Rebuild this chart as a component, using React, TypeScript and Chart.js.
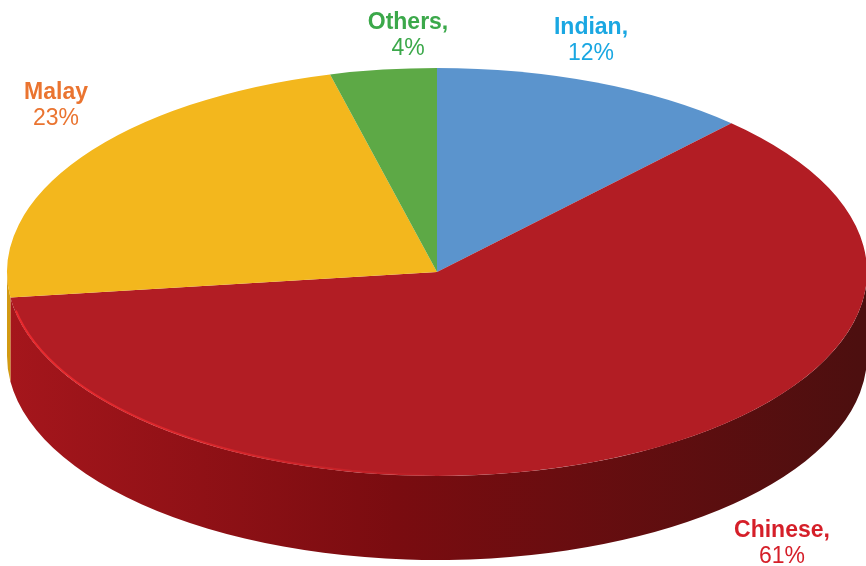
import React, { useEffect, useRef } from "react";
import { Chart, registerables } from "chart.js";

Chart.register(...registerables);

// ---- data ----
const categories = ["Indian", "Chinese", "Malay", "Others"];
const values = [12, 61, 23, 4];
const labelNames = ["Indian,", "Chinese,", "Malay", "Others,"];

// ---- styles ----
const sliceColors = ["#5b94cd", "#b21d24", "#f3b71d", "#5da946"];
const sideStops: string[][] = [
  ["#3f6f9e", "#2f5580", "#21405f"],
  ["#a5161c", "#7a0c10", "#4c0f0f"],
  ["#d29a12", "#b07d0c", "#8a600a"],
  ["#3f8030", "#2f6524", "#214a1a"],
];
const textColors = ["#1aa7e2", "#d51f29", "#ea7430", "#3ba84a"];
const labelPos: [number, number][] = [
  [591, 34],
  [782, 537],
  [56, 99],
  [408, 29],
];
const GEOM = { cx: 437, cy: 272, rx: 430, ry: 204, depth: 84 };
const FONT_FAMILY = "'Liberation Sans', Arial, Helvetica, sans-serif";

const pie3d = {
  id: "pie3d",
  beforeDatasetsDraw(chart: any) {
    const ctx: CanvasRenderingContext2D = chart.ctx;
    const meta = chart.getDatasetMeta(0);
    const { cx, cy, rx, ry, depth } = GEOM;
    meta.data.forEach((el: any, i: number) => {
      const { startAngle, endAngle } = el.getProps(["startAngle", "endAngle"], true);
      const a0 = Math.max(startAngle, 0);
      const a1 = Math.min(endAngle, Math.PI);
      if (a1 <= a0) return;
      const g = ctx.createLinearGradient(cx - rx, 0, cx + rx, 0);
      const s = sideStops[i];
      g.addColorStop(0, s[0]);
      g.addColorStop(0.45, s[1]);
      g.addColorStop(1, s[2]);
      ctx.save();
      ctx.fillStyle = g;
      ctx.beginPath();
      ctx.ellipse(cx, cy, rx, ry, 0, a0, a1);
      ctx.ellipse(cx, cy + depth, rx, ry, 0, a1, a0, true);
      ctx.closePath();
      ctx.fill();
      ctx.restore();
    });
    const el0 = meta.data[0];
    const { x, y, outerRadius } = el0.getProps(["x", "y", "outerRadius"], true);
    ctx.save();
    ctx.translate(cx, cy);
    ctx.scale(rx / outerRadius, ry / outerRadius);
    ctx.translate(-x, -y);
  },
  afterDatasetsDraw(chart: any) {
    const ctx: CanvasRenderingContext2D = chart.ctx;
    ctx.restore();
    const { cx, cy, rx, ry } = GEOM;
    // rim highlight along the front-left edge
    const g = ctx.createLinearGradient(20, 0, 470, 0);
    g.addColorStop(0, "rgba(236,42,46,0.95)");
    g.addColorStop(0.6, "rgba(236,42,46,0.5)");
    g.addColorStop(1, "rgba(236,42,46,0)");
    ctx.save();
    ctx.strokeStyle = g;
    ctx.lineWidth = 2;
    ctx.beginPath();
    ctx.ellipse(cx, cy, rx - 1, ry - 1, 0, 1.6, 2.95);
    ctx.stroke();
    ctx.restore();
  },
  afterDraw(chart: any) {
    const ctx: CanvasRenderingContext2D = chart.ctx;
    ctx.save();
    ctx.textAlign = "center";
    ctx.textBaseline = "alphabetic";
    categories.forEach((_, i) => {
      const [lx, ly] = labelPos[i];
      ctx.fillStyle = textColors[i];
      ctx.font = `bold 23px ${FONT_FAMILY}`;
      ctx.fillText(labelNames[i], lx, ly);
      ctx.font = `23px ${FONT_FAMILY}`;
      ctx.fillText(`${values[i]}%`, lx, ly + 26);
    });
    ctx.restore();
  },
};

export default function App() {
  const canvasRef = useRef<HTMLCanvasElement | null>(null);
  useEffect(() => {
    if (!canvasRef.current) return;
    const chart = new Chart(canvasRef.current, {
      type: "pie",
      data: {
        labels: categories,
        datasets: [
          {
            data: values,
            backgroundColor: sliceColors,
            borderWidth: 0,
            clip: 80,
          } as any,
        ],
      },
      options: {
        animation: false,
        responsive: true,
        maintainAspectRatio: false,
        events: [],
        layout: { padding: 0 },
        plugins: {
          legend: { display: false },
          tooltip: { enabled: false },
        },
      },
      plugins: [pie3d as any],
    });
    return () => chart.destroy();
  }, []);
  return (
    <div
      style={{
        position: "fixed",
        left: 0,
        top: 0,
        width: 866,
        height: 566,
        background: "#ffffff",
      }}
    >
      <canvas ref={canvasRef} />
    </div>
  );
}
